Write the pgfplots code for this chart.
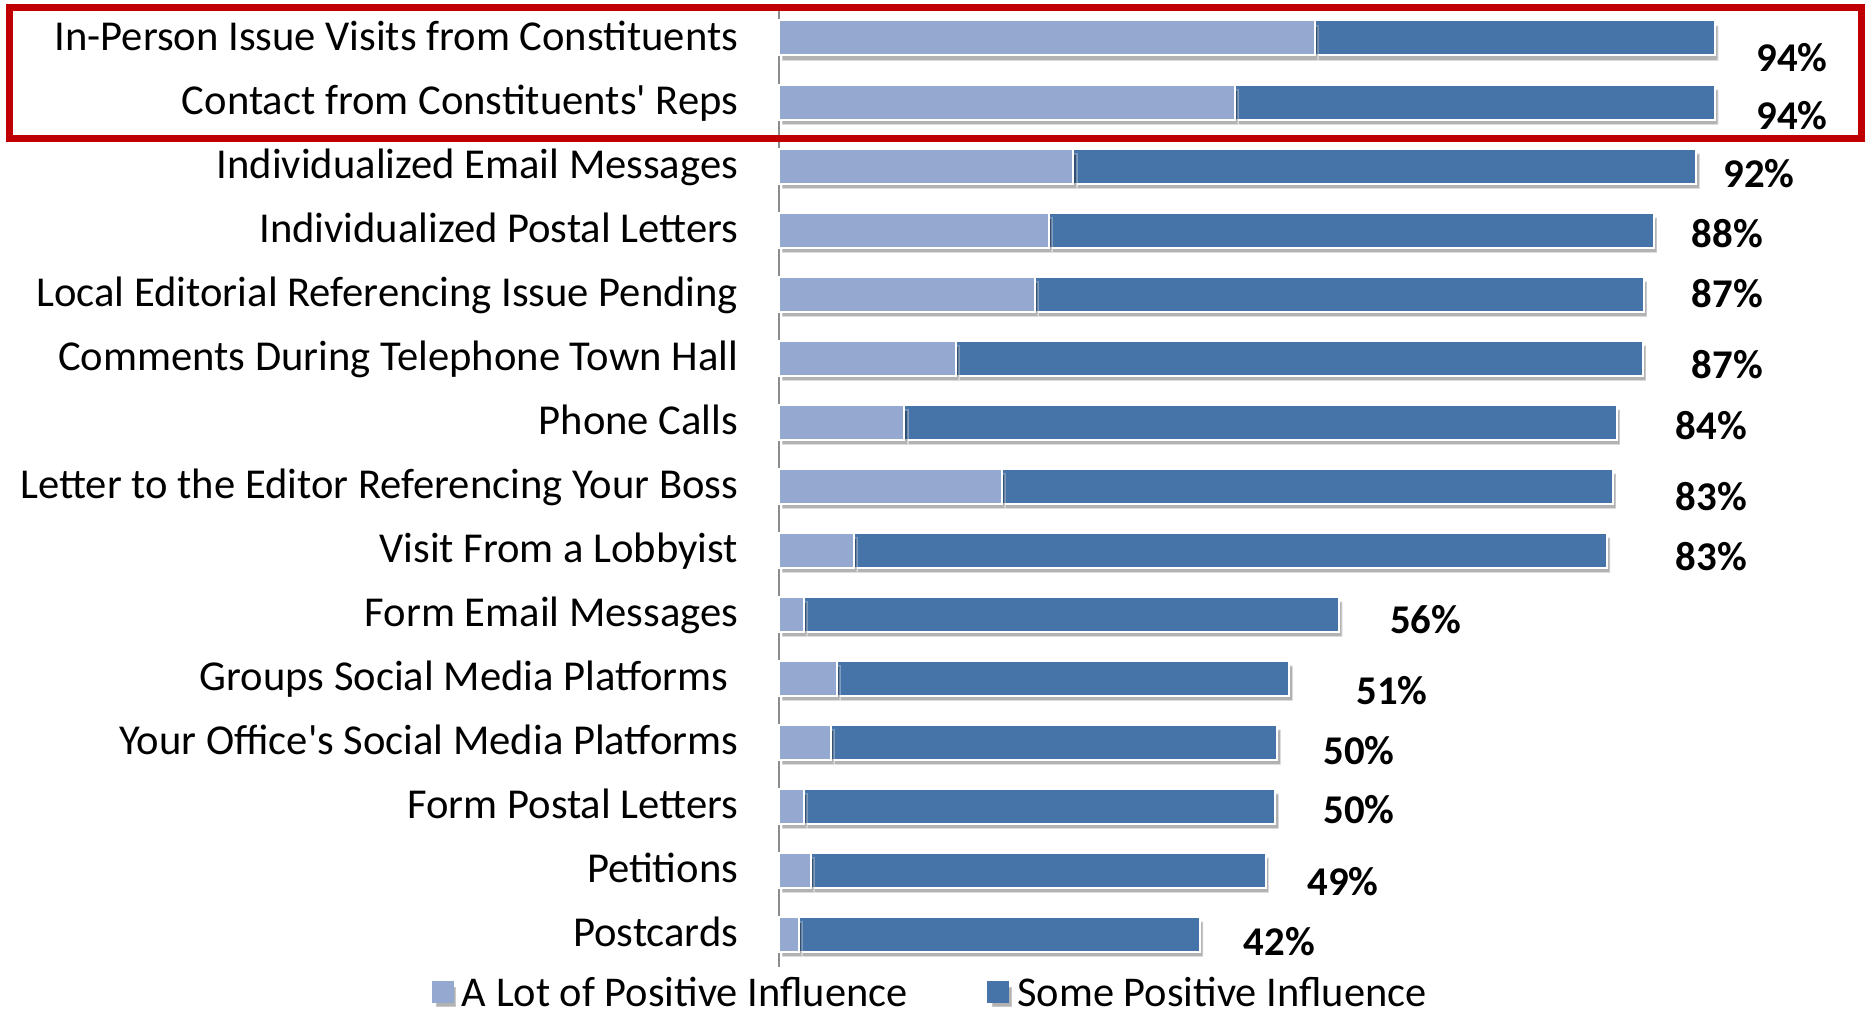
\documentclass[border=0pt]{standalone}
\usepackage{pgfplots}
\pgfplotsset{compat=1.18}
\usepackage{fontspec}
\setmainfont{Carlito}
\usetikzlibrary{shadows}
\definecolor{lightb}{HTML}{95A9D0}
\definecolor{darkb}{HTML}{4674A8}
\definecolor{boxred}{HTML}{C00000}

\pgfplotstableread{
idx light dark
0 53.9 40.2
1 45.8 48.3
2 29.6 62.6
3 27.1 60.8
4 25.7 61.2
5 17.8 69.0
6 12.6 71.6
7 22.4 61.4
8 7.5 75.7
9 2.5 53.8
10 5.8 45.5
11 5.2 44.9
12 2.5 47.4
13 3.2 45.7
14 2.0 40.3
}\datatable

\pgfplotstableread{
x y m
101.8 0.30 94
101.8 1.21 94
98.5 2.12 92
95.3 3.05 88
95.3 3.99 87
95.3 5.11 87
93.7 6.05 84
93.7 7.16 83
93.7 8.10 83
65.0 9.09 56
61.6 10.19 51
58.3 11.13 50
58.3 12.05 50
56.7 13.18 49
50.3 14.12 42
}\labeltable

\begin{document}
\begin{tikzpicture}
\pgfplotsset{
  common/.style={
    width=248.75pt, height=239.85pt, scale only axis,
    xmin=0, xmax=100, ymin=-0.47, ymax=14.52,
    y dir=reverse, clip=false,
  }
}
\begin{axis}[
  common,
  xbar stacked,
  bar width=8.75pt,
  axis x line=none,
  axis y line*=left,
  y axis line style={draw=black!45, line width=0.5pt},
  major tick length=0pt,
  ytick={0,...,14},
  yticklabels={
    In-Person Issue Visits from Constituents,
    Contact from Constituents\textquotesingle{} Reps,
    Individualized Email Messages,
    Individualized Postal Letters,
    Local Editorial Referencing Issue Pending,
    Comments During Telephone Town Hall,
    Phone Calls,
    Letter to the Editor Referencing Your Boss,
    Visit From a Lobbyist,
    Form Email Messages,
    Groups Social Media Platforms\rule{2.4pt}{0pt},
    Your Office\textquotesingle{}s Social Media Platforms,
    Form Postal Letters,
    Petitions,
    Postcards},
  yticklabel style={anchor=east, inner sep=0pt, xshift=-10pt,
    text height=0.9em, text depth=0.256em,
    font=\fontsize{10.65}{12}\selectfont},
  legend style={draw=none, fill=none, legend columns=2, inner sep=0pt,
    at={(0.155,-0.026)}, anchor=center,
    font=\fontsize{10.6}{12}\selectfont,
    nodes={inner ysep=0pt, text depth=0pt},
    /tikz/every even column/.append style={column sep=18pt}},
]
\addplot[fill=lightb, draw=white, line width=0.5pt,
  drop shadow={shadow xshift=0.8pt, shadow yshift=-1.3pt, opacity=0.3, fill=black},
  legend image code/.code={\fill[lightb] (-1pt,-2.5pt) rectangle (4pt,2.5pt);}]
  table[x=light, y=idx] {\datatable};
\addlegendentry{A Lot of Positive Influence}
\addplot[fill=darkb, draw=white, line width=0.5pt,
  drop shadow={shadow xshift=0.8pt, shadow yshift=-1.3pt, opacity=0.3, fill=black},
  legend image code/.code={\fill[darkb] (-1pt,-2.5pt) rectangle (4pt,2.5pt);}]
  table[x=dark, y=idx] {\datatable};
\addlegendentry{Some Positive Influence}
\coordinate (bbA) at (axis cs:-78.29,-0.594);
\coordinate (bbB) at (axis cs:109.45,15.30);
\draw[boxred, line width=1.75pt] (axis cs:-77.29,-0.477) rectangle (axis cs:108.84,1.57);
\end{axis}
\begin{axis}[common, hide axis]
\addplot[draw=none, mark=none,
  nodes near coords={\textbf{\pgfplotspointmeta\%}},
  point meta=explicit symbolic,
  every node near coord/.append style={anchor=center, inner sep=0pt,
    font=\fontsize{10.2}{12}\selectfont}]
  table[x=x, y=y, meta=m] {\labeltable};
\end{axis}
\pgfresetboundingbox
\path[use as bounding box] (bbA) rectangle (bbB);
\end{tikzpicture}
\end{document}
